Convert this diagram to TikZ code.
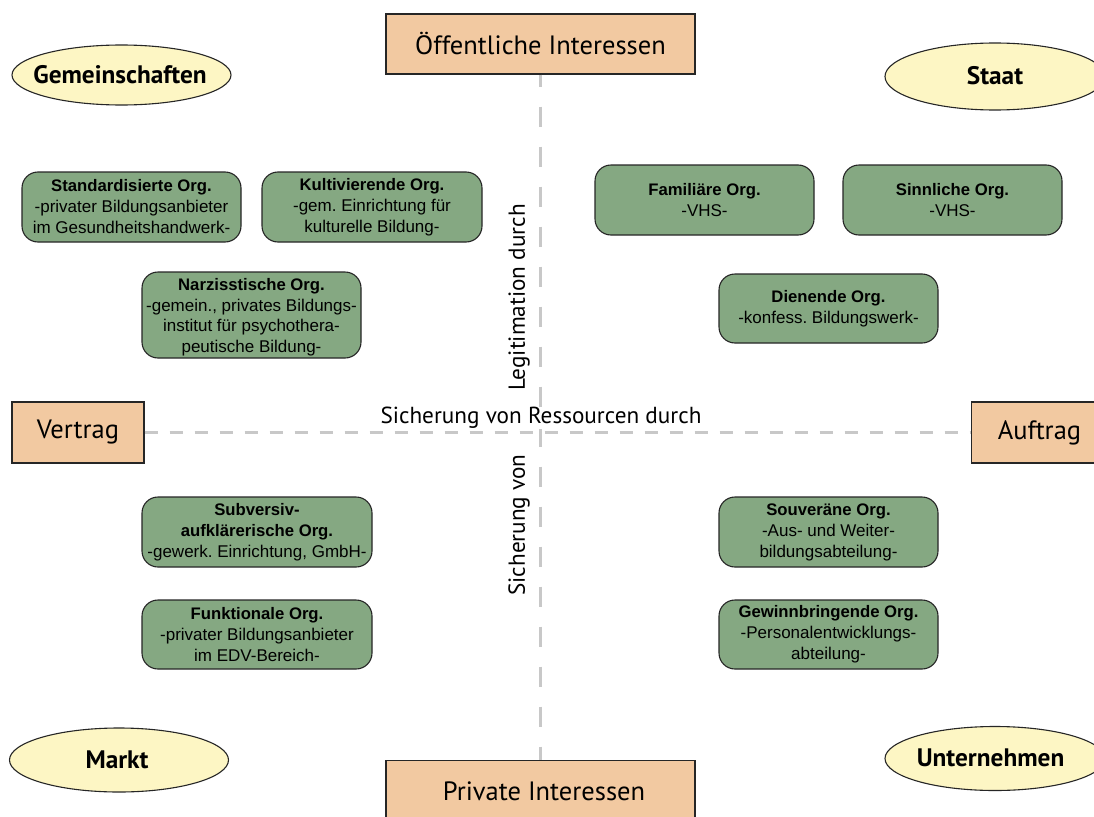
\documentclass[tikz,border=0pt]{standalone}
\usepackage{fontspec}
\setmainfont{Liberation Sans}
\newfontfamily\myr{PT Sans}
\usetikzlibrary{shapes.geometric}
\frenchspacing
\definecolor{peach}{HTML}{F2C9A1}
\definecolor{creme}{HTML}{FDF6C4}
\definecolor{orggreen}{HTML}{85A882}
\definecolor{axisgray}{HTML}{C8C8C8}
\newcommand{\orgtitle}[1]{{\fontsize{16.7}{21}\selectfont\bfseries #1}}
\begin{document}
\begin{tikzpicture}[x=1pt,y=-1pt,
  pole/.style={draw=black!85, line width=1.1pt, fill=peach, inner sep=0pt, font=\myr\fontsize{26.5}{30}\selectfont},
  actor/.style={ellipse, draw=black!85, line width=1.1pt, fill=creme, inner sep=0pt},
  actortext/.style={font=\myr\bfseries\fontsize{25.3}{28}\selectfont, inner sep=0pt},
  orgbox/.style={draw=black!85, line width=1.1pt, fill=orggreen, rounded corners=16pt, inner sep=0pt, align=center, minimum width=219pt, minimum height=70pt, font=\fontsize{17}{21}\selectfont},
  axisv/.style={draw=axisgray, line width=3pt, dash pattern=on 20pt off 20pt, dash phase=8pt},
  axish/.style={draw=axisgray, line width=3pt, dash pattern=on 13pt off 12pt},
  axislabel/.style={font=\myr\fontsize{23.2}{26}\selectfont, inner sep=0.5pt}
]
\useasboundingbox (0,0) rectangle (1094,816);
\clip (0,0) rectangle (1094,816);
\fill[white] (0,0) rectangle (1094,816);

% poles
\node[pole, minimum width=309pt, minimum height=60pt] (top) at (540.5,44) {Öffentliche Interessen};
\node[pole, minimum width=309pt, minimum height=70pt, anchor=north] (bottom) at (540.5,760) {};
\node[font=\myr\fontsize{26.5}{30}\selectfont] (bottomtxt) at (544,791) {Private Interessen};
\node[pole, minimum width=132pt, minimum height=61pt] (vertrag) at (78,432.5) {Vertrag};
\node[pole, minimum width=140pt, minimum height=61pt, anchor=west] (auftrag) at (971,432.5) {};
\node[font=\myr\fontsize{26.5}{30}\selectfont] (auftragtxt) at (1039.5,432.5) {Auftrag};

% axes
\draw[axisv] (top.south) -- (bottom.north);
\draw[axish] (vertrag.east) -- (auftrag.west);
\node[axislabel, fill=white] (res) at (541,418) {Sicherung von Ressourcen durch};
\node[axislabel, rotate=90] (leg) at (519,297.5) {Legitimation durch};
\node[axislabel, rotate=90] (sich) at (519,525) {Sicherung von};

% actors
\node[actor, minimum width=219pt, minimum height=60pt] (gem) at (121.5,75) {};
\node[actortext] (gemtxt) at (120,75) {Gemeinschaften};
\node[actor, minimum width=220pt, minimum height=67pt] (staat) at (995,76.5) {};
\node[actortext] (staattxt) at (995,76) {Staat};
\node[actor, minimum width=219pt, minimum height=64pt] (markt) at (119,760) {};
\node[actortext] (markttxt) at (117,760) {Markt};
\node[actor, minimum width=220pt, minimum height=64pt] (unt) at (995,758.5) {};
\node[actortext] (unttxt) at (990.5,758) {Unternehmen};

% organisations
\node[orgbox] (std) at (131.5,207) {\orgtitle{Standardisierte Org.}\\-privater Bildungsanbieter\\im Gesundheitshandwerk-};
\node[orgbox, minimum width=220pt] (kult) at (372,207) {\orgtitle{Kultivierende Org.}\\-gem. Einrichtung für\\kulturelle Bildung-};
\node[orgbox, minimum height=86pt] (narz) at (251.5,315) {};
\node[align=center, inner sep=0pt, font=\fontsize{17}{20.5}\selectfont] (narztxt) at (251.5,317) {\orgtitle{Narzisstische Org.}\\-gemein., privates Bildungs-\\institut für psychothera-\\peutische Bildung-};
\node[orgbox] (fam) at (704.5,200) {\orgtitle{Familiäre Org.}\\-VHS-};
\node[orgbox] (sinn) at (952.5,200) {\orgtitle{Sinnliche Org.}\\-VHS-};
\node[orgbox, minimum height=69pt] (dien) at (828.5,308.5) {\orgtitle{Dienende Org.}\\-konfess. Bildungswerk-};
\node[orgbox, minimum width=230pt] (subv) at (257,532) {\orgtitle{Subversiv-}\\\orgtitle{aufklärerische Org.}\\-gewerk. Einrichtung, GmbH-};
\node[orgbox, minimum width=230pt, minimum height=69pt] (funk) at (257,634.5) {\orgtitle{Funktionale Org.}\\-privater Bildungsanbieter\\im EDV-Bereich-};
\node[orgbox] (souv) at (828.5,532) {\orgtitle{Souveräne Org.}\\-Aus- und Weiter-\\bildungsabteilung-};
\node[orgbox, minimum height=69pt] (gewi) at (828.5,634.5) {\orgtitle{Gewinnbringende Org.}\\-Personalentwicklungs-\\abteilung-};
\end{tikzpicture}
\end{document}
